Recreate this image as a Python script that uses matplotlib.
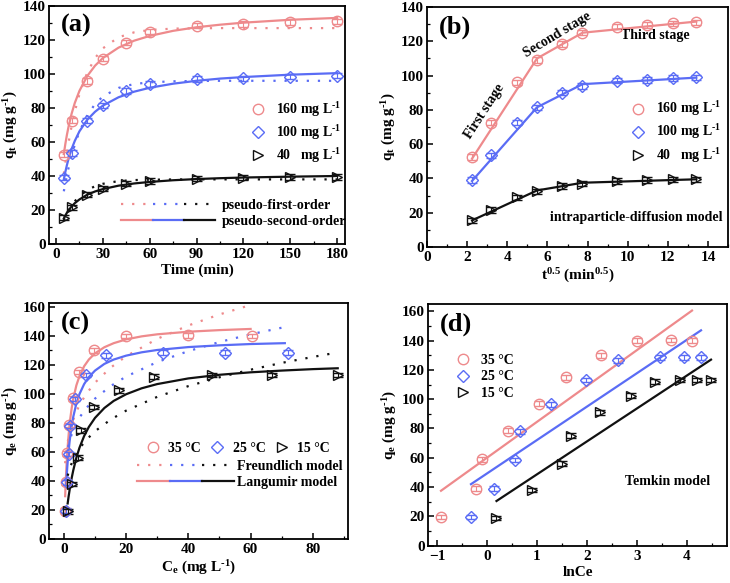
import numpy as np
import matplotlib
matplotlib.use("Agg")
import matplotlib.pyplot as plt
from matplotlib.lines import Line2D
from matplotlib.legend_handler import HandlerTuple
from matplotlib.ticker import MultipleLocator

# ---------------- data ----------------
# (a)/(b) kinetics
time_min = [5, 10, 20, 30, 45, 60, 90, 120, 150, 180]
q160 = [52.5, 72.5, 96, 109, 118.5, 125, 128.5, 129.5, 130.5, 131]
q100 = [39, 53.5, 72.5, 81.5, 90, 94, 97, 97.5, 98.5, 99]
q40 = [15.5, 21.5, 29, 32.5, 35.5, 37, 38.5, 39, 39.5, 39.5]
kin_labels = ["160 mg L$^{\\text{-1}}$", "100 mg L$^{\\text{-1}}$", "40   mg L$^{\\text{-1}}$"]

# fitted curves
fit_t = [5, 6, 7, 8, 10, 12, 15, 20, 25, 30, 40, 50, 60, 75, 90, 105, 120, 150, 180]
pso160 = [52.9, 59.0, 64.3, 68.9, 76.7, 82.9, 90.1, 98.8, 104.9, 109.4, 115.5, 119.6, 122.4, 125.4, 127.5, 129.0, 130.2, 131.9, 133.0]
pso100 = [38.0, 42.5, 46.5, 50.0, 55.9, 60.6, 66.3, 73.1, 77.8, 81.4, 86.3, 89.6, 91.9, 94.3, 96.0, 97.3, 98.2, 99.6, 100.5]
pso40 = [15.0, 16.8, 18.4, 19.8, 22.1, 24.0, 26.2, 29.0, 30.9, 32.3, 34.3, 35.6, 36.5, 37.5, 38.2, 38.7, 39.1, 39.6, 40.0]
pfo160 = [41.4, 47.9, 54.0, 59.5, 69.4, 77.8, 88.2, 100.8, 109.4, 115.1, 121.6, 124.5, 125.9, 126.7, 126.9, 127.0, 127.0, 127.0, 127.0]
pfo100 = [31.0, 35.9, 40.4, 44.6, 52.0, 58.3, 66.2, 75.8, 82.3, 86.8, 91.8, 94.1, 95.1, 95.7, 95.9, 96.0, 96.0, 96.0, 96.0]
pfo40 = [13.8, 15.9, 17.8, 19.5, 22.5, 25.1, 28.2, 31.7, 34.0, 35.4, 37.0, 37.6, 37.8, 37.96, 38.0, 38.0, 38.0, 38.0, 38.0]

# (b) intraparticle diffusion piecewise lines
ipd_x = [2.24, 5.48, 7.75, 13.42]
ipd160 = [51.5, 110.0, 125.0, 131.5]
ipd100 = [38.5, 81.5, 95.0, 98.8]
ipd40 = [15.5, 33.0, 37.5, 39.5]

# (c)/(d) isotherms
ce35 = [0.4, 0.8, 0.9, 1.52, 2.83, 4.81, 9.8, 19.9, 40.0, 60.3]
qe35 = [19.5, 39, 59, 78.5, 97, 115, 130, 140, 140.5, 140]
ce25 = [0.73, 1.14, 1.75, 1.93, 3.6, 7.2, 13.6, 31.8, 51.9, 72.0]
qe25 = [19.5, 39, 58.5, 78, 96.5, 113, 126.5, 128.5, 128.5, 128.5]
ce15 = [1.2, 2.45, 4.45, 5.4, 9.6, 17.8, 29.0, 47.5, 67.0, 88.0]
qe15 = [19, 38, 56, 75, 91, 102.5, 112, 113, 113, 113]
iso_labels = ["35 \u00b0C", "25 \u00b0C", "15 \u00b0C"]

lang35_c = [0.4, 0.6, 0.8, 1.0, 1.3, 1.6, 2.0, 2.5, 3, 4, 5, 6.5, 8, 10, 13, 16, 20, 25, 30, 40, 50, 60]
lang35_q = [29.5, 40.2, 49.2, 56.8, 66.2, 73.9, 82.2, 90.3, 96.6, 105.9, 112.3, 119.1, 123.7, 128.0, 132.2, 135.0, 137.6, 139.7, 141.1, 142.9, 144.0, 144.8]
lang25_c = [0.73, 0.9, 1.1, 1.4, 1.8, 2.3, 3, 4, 5, 6.5, 8, 10, 13, 16, 20, 25, 30, 40, 50, 60, 71]
lang25_q = [37.9, 43.9, 50.2, 58.1, 66.7, 75.2, 84.2, 93.4, 99.9, 106.8, 111.6, 116.1, 120.7, 123.7, 126.4, 128.7, 130.3, 132.3, 133.5, 134.4, 135.0]
lang15_c = [1.2, 1.5, 2, 2.5, 3, 4, 5, 6.5, 8, 10, 13, 16, 20, 25, 30, 40, 50, 60, 70, 80, 88]
lang15_q = [24.5, 29.2, 36.1, 42.1, 47.3, 56.0, 62.9, 71.0, 77.2, 83.5, 90.3, 95.2, 99.8, 103.9, 106.8, 110.7, 113.2, 114.9, 116.1, 117.1, 117.7]

fr35_c = [0.4, 0.6, 0.8, 1, 1.5, 2, 3, 4, 5, 7, 10, 15, 20, 30, 40, 50, 60]
fr35_q = [52.2, 57.2, 61.1, 64.2, 70.3, 75.0, 82.2, 87.7, 92.2, 99.5, 107.8, 118.1, 126.0, 138.0, 147.2, 154.8, 161.3]
fr25_c = [0.73, 1, 1.5, 2, 3, 4, 5, 7, 10, 15, 20, 30, 40, 50, 60, 71]
fr25_q = [55.9, 59.7, 65.0, 69.1, 75.2, 79.9, 83.7, 89.8, 96.8, 105.4, 112.0, 122.0, 129.5, 135.8, 141.1, 146.1]
fr15_c = [1.2, 1.5, 2, 3, 4, 5, 7, 10, 15, 20, 30, 40, 50, 60, 70, 80, 88]
fr15_q = [43.6, 46.1, 49.5, 54.9, 59.0, 62.4, 67.9, 74.3, 82.3, 88.5, 98.0, 105.4, 111.5, 116.7, 121.4, 125.5, 128.6]

# (d) Temkin straight lines (end points)
tem35_x = [-0.92, 4.1]
tem35_q = [37.5, 160.5]
tem25_x = [-0.32, 4.28]
tem25_q = [42.0, 147.0]
tem15_x = [0.19, 4.48]
tem15_q = [30.5, 127.0]

# ---------------- style ----------------
PINK = "#EE8A8C"
BLUE = "#5A6CF5"
BLACK = "#111111"
colors = [PINK, BLUE, BLACK]
markers = ["o", "D", ">"]
msizes = [7.5, 6.5, 7.5]

plt.rcParams.update({
    "font.family": ["Liberation Serif", "DejaVu Serif"],
    "font.weight": "bold",
    "font.size": 10,
    "axes.labelweight": "bold",
    "axes.linewidth": 1.3,
    "mathtext.fontset": "custom",
    "mathtext.rm": "Liberation Serif:bold",
    "mathtext.it": "Liberation Serif:italic:bold",
    "mathtext.bf": "Liberation Serif:bold",
    "xtick.direction": "in",
    "ytick.direction": "in",
    "xtick.major.size": 4,
    "ytick.major.size": 4,
    "xtick.minor.size": 2.2,
    "ytick.minor.size": 2.2,
    "xtick.major.width": 1.1,
    "ytick.major.width": 1.1,
    "xtick.minor.width": 0.9,
    "ytick.minor.width": 0.9,
    "xtick.major.pad": 3,
    "ytick.major.pad": 2.5,
})

DOT = (0, (1, 4))
FS = 10      # legend / annotation text
TFS = 11     # tick labels
LFS = 11     # axis labels

fig = plt.figure(figsize=(7.30, 5.83), dpi=100)
axa = fig.add_axes([0.0671, 0.5815, 0.4055, 0.4082])
axb = fig.add_axes([0.585, 0.5763, 0.4123, 0.4117])
axc = fig.add_axes([0.0671, 0.0755, 0.4096, 0.4043])
axd = fig.add_axes([0.5863, 0.064, 0.4096, 0.4146])


def pts(ax, x, y, i, err=1.6):
    ax.errorbar(x, y, yerr=err, fmt=markers[i], ms=msizes[i], mfc="none",
                mec=colors[i], mew=1.0, ecolor=colors[i], elinewidth=0.8,
                capsize=3.5, capthick=0.8, zorder=3)


def marker_handles():
    return [Line2D([], [], ls="none", marker=markers[i], ms=msizes[i],
                   mfc="none", mec=colors[i], mew=1.0) for i in range(3)]


def style(ax, xmaj, xmin, ymaj, ymin):
    ax.xaxis.set_major_locator(MultipleLocator(xmaj))
    ax.xaxis.set_minor_locator(MultipleLocator(xmin))
    ax.yaxis.set_major_locator(MultipleLocator(ymaj))
    ax.yaxis.set_minor_locator(MultipleLocator(ymin))
    ax.tick_params(labelsize=TFS)
    for lab in ax.get_xticklabels() + ax.get_yticklabels():
        lab.set_fontweight("bold")


# ---------------- (a) ----------------
ax = axa
for i, (pfo, pso, q) in enumerate([(pfo160, pso160, q160), (pfo100, pso100, q100), (pfo40, pso40, q40)]):
    ax.plot(fit_t, pfo, color=colors[i], ls=DOT, lw=1.6, zorder=2)
    ax.plot(fit_t, pso, color=colors[i], ls="-", lw=1.6, zorder=2)
    pts(ax, time_min, q, i)
ax.set_xlim(-4.5, 185)
ax.set_ylim(0, 140)
style(ax, 30, 15, 20, 10)
ax.set_xlabel("Time (min)", fontsize=LFS, labelpad=2)
ax.set_ylabel("q$_{\\text{t}}$ (mg g$^{\\text{-1}}$)", fontsize=LFS, labelpad=2)
ax.text(0.04, 0.965, "(a)", transform=ax.transAxes, fontsize=19, fontweight="bold", va="top")
leg1 = ax.legend(marker_handles(), kin_labels, loc="center left", bbox_to_anchor=(0.66, 0.47),
                 frameon=False, handlelength=1.0, handletextpad=0.8, labelspacing=0.3,
                 borderpad=0, fontsize=FS)
ax.add_artist(leg1)
dots = tuple(Line2D([], [], color=c, ls=DOT, lw=1.6) for c in colors)
sols = tuple(Line2D([], [], color=c, ls="-", lw=1.6) for c in colors)
ax.legend([dots, sols], ["pseudo-first-order", "pseudo-second-order"],
          handler_map={tuple: HandlerTuple(ndivide=None, pad=0.0)},
          loc="center left", bbox_to_anchor=(0.22, 0.128), frameon=False,
          handlelength=6.8, handletextpad=0.45, labelspacing=0.2, borderpad=0, fontsize=FS)

# ---------------- (b) ----------------
ax = axb
sqrt_t = np.sqrt(time_min)
for i, (ly, q) in enumerate([(ipd160, q160), (ipd100, q100), (ipd40, q40)]):
    ax.plot(ipd_x, ly, color=colors[i], lw=1.6, zorder=2)
    pts(ax, sqrt_t, q, i)
ax.set_xlim(0, 15)
ax.set_ylim(0, 140)
style(ax, 2, 1, 20, 10)
ax.set_xlabel("t$^{\\text{0.5}}$ (min$^{\\text{0.5}}$)", fontsize=LFS, labelpad=2)
ax.set_ylabel("q$_{\\text{t}}$ (mg g$^{\\text{-1}}$)", fontsize=LFS, labelpad=2)
ax.text(0.04, 0.965, "(b)", transform=ax.transAxes, fontsize=19, fontweight="bold", va="top")
ax.text(2.85, 79, "First stage", rotation=57, ha="center", va="center", fontsize=FS, fontweight="bold")
ax.text(6.5, 123.5, "Second stage", rotation=31, ha="center", va="center", fontsize=FS, fontweight="bold")
ax.text(11.4, 123.5, "Third stage", ha="center", va="center", fontsize=FS, fontweight="bold")
ax.text(10.45, 17.5, "intraparticle-diffusion model", ha="center", va="center", fontsize=FS, fontweight="bold")
ax.legend(marker_handles(), kin_labels, loc="center left", bbox_to_anchor=(0.655, 0.479),
          frameon=False, handlelength=1.0, handletextpad=0.8, labelspacing=0.3,
          borderpad=0, fontsize=FS)

# ---------------- (c) ----------------
ax = axc
for i, (fc, fq, lc, lq, c, q) in enumerate([
        (fr35_c, fr35_q, lang35_c, lang35_q, ce35, qe35),
        (fr25_c, fr25_q, lang25_c, lang25_q, ce25, qe25),
        (fr15_c, fr15_q, lang15_c, lang15_q, ce15, qe15)]):
    ax.plot(fc, fq, color=colors[i], ls=DOT, lw=1.6, zorder=2)
    ax.plot(lc, lq, color=colors[i], ls="-", lw=1.6, zorder=2)
    pts(ax, c, q, i)
ax.set_xlim(-4.8, 91.3)
ax.set_ylim(0, 162.5)
style(ax, 20, 10, 20, 10)
ax.set_xlabel("C$_{\\text{e}}$ (mg L$^{\\text{-1}}$)", fontsize=LFS, labelpad=2)
ax.set_ylabel("q$_{\\text{e}}$ (mg g$^{\\text{-1}}$)", fontsize=LFS, labelpad=2)
ax.text(0.04, 0.965, "(c)", transform=ax.transAxes, fontsize=19, fontweight="bold", va="top")
leg3 = ax.legend(marker_handles(), iso_labels, loc="center left", bbox_to_anchor=(0.30, 0.386),
                 ncol=3, frameon=False, handlelength=1.0, handletextpad=0.6, columnspacing=0.7,
                 borderpad=0, fontsize=FS)
ax.add_artist(leg3)
ax.legend([dots, sols], ["Freundlich model", "Langumir model"],
          handler_map={tuple: HandlerTuple(ndivide=None, pad=0.0)},
          loc="center left", bbox_to_anchor=(0.272, 0.274), frameon=False,
          handlelength=7.0, handletextpad=0.2, labelspacing=0.25, borderpad=0, fontsize=FS)

# ---------------- (d) ----------------
ax = axd
for i, (tx, tq, c, q) in enumerate([(tem35_x, tem35_q, ce35, qe35),
                                     (tem25_x, tem25_q, ce25, qe25),
                                     (tem15_x, tem15_q, ce15, qe15)]):
    ax.plot(tx, tq, color=colors[i], lw=1.6, zorder=2)
    pts(ax, np.log(c), q, i)
ax.set_xlim(-1.18, 4.8)
ax.set_ylim(0, 165)
style(ax, 1, 0.5, 20, 10)
ax.set_xlabel("lnCe", fontsize=LFS, labelpad=2)
ax.set_ylabel("q$_{\\text{e}}$ (mg g$^{\\text{-1}}$)", fontsize=LFS, labelpad=2)
ax.text(0.04, 0.965, "(d)", transform=ax.transAxes, fontsize=19, fontweight="bold", va="top")
ax.text(3.62, 44, "Temkin model", ha="center", va="center", fontsize=FS, fontweight="bold")
ax.legend(marker_handles(), iso_labels, loc="center left", bbox_to_anchor=(0.07, 0.698),
          frameon=False, handlelength=1.0, handletextpad=0.8, labelspacing=0.25,
          borderpad=0, fontsize=FS)

fig.savefig("out.png", dpi=100)
